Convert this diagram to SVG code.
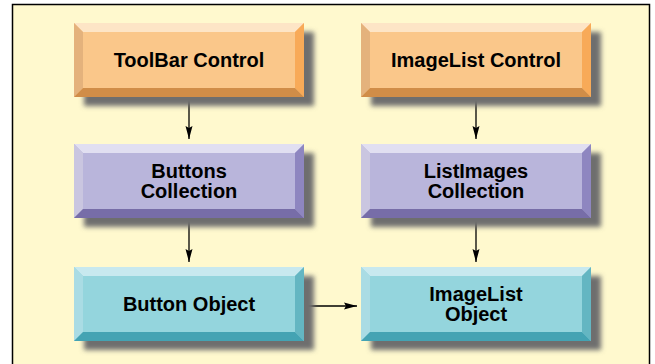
<svg xmlns="http://www.w3.org/2000/svg" width="655" height="364" viewBox="0 0 655 364">
<defs>
<style>
.lbl{font-family:"Liberation Sans",Arial,sans-serif;font-weight:bold;font-size:20px;fill:#000;text-anchor:middle}
.sh{fill:#6e6e6e;filter:url(#blur)}
.o .t{fill:#FDE5C6}.o .l{fill:#E4B27C}.o .r{fill:#F8AA58}.o .b{fill:#D08D48}.o .f{fill:#FAC78A}
.p .t{fill:#E1DFF1}.p .l{fill:#CAC6E0}.p .r{fill:#8E86C0}.p .b{fill:#776DA8}.p .f{fill:#B9B5DB}
.c .t{fill:#C8E9EF}.c .l{fill:#AADCE4}.c .r{fill:#64B6C2}.c .b{fill:#44A3B3}.c .f{fill:#94D5DD}
.conn{stroke:#000;stroke-width:1.3;fill:none}
</style>
<filter id="blur" x="-10%" y="-20%" width="120%" height="140%"><feGaussianBlur stdDeviation="2.5"/></filter>
<marker id="ah" markerWidth="14" markerHeight="8" refX="13" refY="4" orient="auto" markerUnits="userSpaceOnUse">
<path d="M0,0.5 L13,4 L0,7.5 L2,4 z" fill="#000"/>
</marker>
</defs>
<rect x="0" y="0" width="655" height="364" fill="#fff"/>
<rect x="12.5" y="4.5" width="637" height="370" fill="#FFF9CE" stroke="#000" stroke-width="1.5"/>

<g id="connectors">
<line class="conn" x1="189" y1="97" x2="189" y2="139" marker-end="url(#ah)"/>
<line class="conn" x1="476" y1="97" x2="476" y2="139" marker-end="url(#ah)"/>
<line class="conn" x1="189" y1="218" x2="189" y2="262" marker-end="url(#ah)"/>
<line class="conn" x1="476" y1="218" x2="476" y2="262" marker-end="url(#ah)"/>
<line class="conn" x1="304" y1="306" x2="357" y2="306" marker-end="url(#ah)"/>
</g>

<g id="toolbar-control" class="o">
<rect class="sh" x="84" y="32" width="230" height="74"/>
<g transform="translate(74,23)">
<rect class="f" x="0" y="0" width="230" height="74"/>
<polygon class="t" points="0,0 230,0 221,9 9,9"/>
<polygon class="l" points="0,0 9,9 9,65 0,74"/>
<polygon class="r" points="230,0 230,74 221,65 221,9"/>
<polygon class="b" points="0,74 9,65 221,65 230,74"/>
</g>
<text class="lbl" x="189" y="67">ToolBar Control</text>
</g>
<g id="imagelist-control" class="o">
<rect class="sh" x="371" y="32" width="230" height="74"/>
<g transform="translate(361,23)">
<rect class="f" x="0" y="0" width="230" height="74"/>
<polygon class="t" points="0,0 230,0 221,9 9,9"/>
<polygon class="l" points="0,0 9,9 9,65 0,74"/>
<polygon class="r" points="230,0 230,74 221,65 221,9"/>
<polygon class="b" points="0,74 9,65 221,65 230,74"/>
</g>
<text class="lbl" x="476" y="67">ImageList Control</text>
</g>
<g id="buttons-collection" class="p">
<rect class="sh" x="84" y="153" width="230" height="74"/>
<g transform="translate(74,144)">
<rect class="f" x="0" y="0" width="230" height="74"/>
<polygon class="t" points="0,0 230,0 221,9 9,9"/>
<polygon class="l" points="0,0 9,9 9,65 0,74"/>
<polygon class="r" points="230,0 230,74 221,65 221,9"/>
<polygon class="b" points="0,74 9,65 221,65 230,74"/>
</g>
<text class="lbl" x="189" y="178">Buttons</text>
<text class="lbl" x="189" y="198">Collection</text>
</g>
<g id="listimages-collection" class="p">
<rect class="sh" x="371" y="153" width="230" height="74"/>
<g transform="translate(361,144)">
<rect class="f" x="0" y="0" width="230" height="74"/>
<polygon class="t" points="0,0 230,0 221,9 9,9"/>
<polygon class="l" points="0,0 9,9 9,65 0,74"/>
<polygon class="r" points="230,0 230,74 221,65 221,9"/>
<polygon class="b" points="0,74 9,65 221,65 230,74"/>
</g>
<text class="lbl" x="476" y="178">ListImages</text>
<text class="lbl" x="476" y="198">Collection</text>
</g>
<g id="button-object" class="c">
<rect class="sh" x="84" y="276" width="230" height="74"/>
<g transform="translate(74,267)">
<rect class="f" x="0" y="0" width="230" height="74"/>
<polygon class="t" points="0,0 230,0 221,9 9,9"/>
<polygon class="l" points="0,0 9,9 9,65 0,74"/>
<polygon class="r" points="230,0 230,74 221,65 221,9"/>
<polygon class="b" points="0,74 9,65 221,65 230,74"/>
</g>
<text class="lbl" x="189" y="311">Button Object</text>
</g>
<g id="imagelist-object" class="c">
<rect class="sh" x="371" y="276" width="230" height="74"/>
<g transform="translate(361,267)">
<rect class="f" x="0" y="0" width="230" height="74"/>
<polygon class="t" points="0,0 230,0 221,9 9,9"/>
<polygon class="l" points="0,0 9,9 9,65 0,74"/>
<polygon class="r" points="230,0 230,74 221,65 221,9"/>
<polygon class="b" points="0,74 9,65 221,65 230,74"/>
</g>
<text class="lbl" x="476" y="301">ImageList</text>
<text class="lbl" x="476" y="321">Object</text>
</g>
</svg>
